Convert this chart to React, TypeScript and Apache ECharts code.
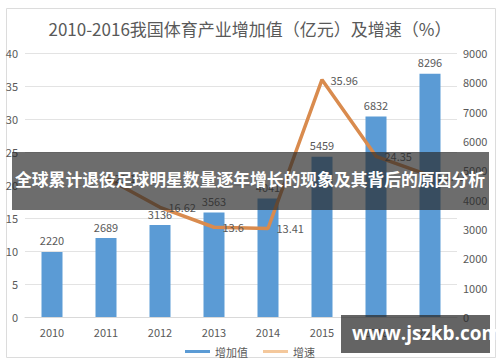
import React, { useEffect, useRef } from "react";
import * as echarts from "echarts";

const years = ["2010", "2011", "2012", "2013", "2014", "2015", "2016", "2017"];
const addedValue = [2220, 2689, 3136, 3563, 4041, 5459, 6832, 8296];
const growthRate: (number | null)[] = [null, 21.1, 16.62, 13.6, 13.41, 35.96, 24.35, 21.42];
const leftTicks = { min: 0, max: 40, interval: 5 };
const rightTicks = { min: 0, max: 9000, interval: 1000 };
const titleText = "2010-2016我国体育产业增加值（亿元）及增速（%）";
const bannerText = "全球累计退役足球明星数量逐年增长的现象及其背后的原因分析";
const watermarkText = "www.jszkb.com";

export default function App() {
  const ref = useRef<HTMLDivElement>(null);
  useEffect(() => {
    if (!ref.current) return;
    const chart = echarts.init(ref.current, null, { renderer: "svg" });
    const font = "'Noto Sans CJK SC', 'Noto Sans', sans-serif";
    chart.setOption({
      animation: false,
      backgroundColor: "#ffffff",
      textStyle: { fontFamily: font },
      title: {
        text: titleText,
        left: "center",
        top: 15,
        textStyle: { color: "#595959", fontSize: 17, fontWeight: "normal", fontFamily: font },
      },
      grid: { left: 25, right: 43, top: 53, bottom: 45 },
      legend: {
        bottom: 0,
        left: "center",
        itemGap: 15,
        textStyle: { color: "#595959", fontSize: 11 },
        data: [
          { name: "增加值", icon: "rect", itemStyle: { color: "#5b9bd5" } },
          { name: "增速", icon: "rect", itemStyle: { color: "#f4c89c" } },
        ],
        itemWidth: 25,
        itemHeight: 3,
      },
      xAxis: {
        type: "category",
        data: years,
        axisLine: { lineStyle: { color: "#d9d9d9" } },
        axisTick: { show: false },
        axisLabel: { color: "#595959", fontSize: 11, margin: 9 },
      },
      yAxis: [
        {
          type: "value",
          min: leftTicks.min,
          max: leftTicks.max,
          interval: leftTicks.interval,
          axisLine: { show: false },
          axisTick: { show: false },
          axisLabel: { color: "#595959", fontSize: 11, margin: 7 },
          splitLine: { lineStyle: { color: "#e3e3e3" } },
        },
        {
          type: "value",
          min: rightTicks.min,
          max: rightTicks.max,
          interval: rightTicks.interval,
          axisLine: { show: false },
          axisTick: { show: false },
          axisLabel: {
            color: "#595959",
            fontSize: 11,
            margin: 6,
            formatter: (v: number) => String(v),
          },
          splitLine: { show: false },
        },
      ],
      series: [
        {
          name: "增加值",
          type: "bar",
          yAxisIndex: 1,
          data: addedValue,
          barWidth: 21,
          itemStyle: { color: "#5b9bd5" },
          label: { show: true, position: "top", color: "#595959", fontSize: 11, distance: 6 },
          z: 2,
        },
        {
          name: "增速",
          type: "line",
          yAxisIndex: 0,
          data: growthRate,
          connectNulls: false,
          symbol: "circle",
          symbolSize: 1,
          showSymbol: true,
          itemStyle: { color: "#d98b4e" },
          lineStyle: { color: "#d98b4e", width: 3.5 },
          label: { show: true, position: "right", color: "#595959", fontSize: 11, distance: 8 },
          z: 3,
        },
      ],
      graphic: [
        {
          type: "rect",
          left: 4,
          top: 6,
          shape: { width: 489, height: 349 },
          style: { fill: "none", stroke: "#dcdcdc", lineWidth: 1 },
          silent: true,
          z: 0,
        },
        {
          type: "rect",
          left: 12,
          top: 152,
          shape: { width: 477, height: 58 },
          style: { fill: "rgba(40,40,40,0.68)" },
          z: 100,
        },
        {
          type: "text",
          left: "center",
          top: 171,
          style: {
            text: bannerText,
            fill: "#ffffff",
            fontSize: 16.8,
            fontWeight: "bold",
            fontFamily: font,
          },
          z: 101,
        },
        {
          type: "rect",
          left: 341,
          top: 315,
          shape: { width: 149, height: 38 },
          style: { fill: "rgba(40,40,40,0.72)" },
          z: 100,
        },
        {
          type: "text",
          left: 352,
          top: 323,
          style: {
            text: watermarkText,
            fill: "#ffffff",
            fontSize: 19,
            fontWeight: "bold",
            fontFamily: "'Open Sans', 'DejaVu Sans', sans-serif",
          },
          z: 101,
        },
      ],
    });
    return () => chart.dispose();
  }, []);
  return (
    <div
      ref={ref}
      style={{ position: "absolute", left: 0, top: 0, width: 500, height: 362 }}
    />
  );
}
